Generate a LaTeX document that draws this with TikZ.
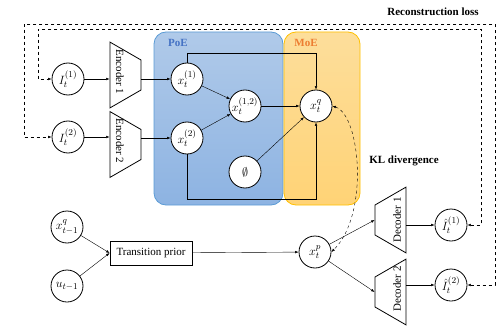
\documentclass[tikz,border=0pt]{standalone}
\usepackage{fontspec}
\setmainfont{Liberation Serif}
\usetikzlibrary{positioning,shapes.geometric,arrows.meta}

\definecolor{poetop}{RGB}{176,202,233}
\definecolor{poebot}{RGB}{141,179,226}
\definecolor{poeline}{RGB}{91,155,213}
\definecolor{poetext}{RGB}{68,114,196}
\definecolor{moetop}{RGB}{253,222,155}
\definecolor{moebot}{RGB}{255,211,118}
\definecolor{moeline}{RGB}{255,192,0}
\definecolor{moetext}{RGB}{237,125,49}

\begin{document}
\begin{tikzpicture}[x=1pt, y=-1pt, font=\fontsize{11}{13}\selectfont,
    var/.style={circle, draw, thick, fill=white, minimum size=32pt, inner sep=0pt,
        font=\fontsize{12.5}{14}\selectfont},
    coder/.style={trapezium, draw, thick, trapezium angle=60,
        inner xsep=15pt, inner ysep=15.5pt},
    prior/.style={rectangle, draw, thick, minimum width=82pt, minimum height=24pt},
    group/.style={rounded corners=12pt, line width=0.8pt},
    tag/.style={font=\fontsize{11}{13}\selectfont\bfseries},
    loss/.style={dashed, <->},
    >={Latex[length=3.5pt,width=2.6pt]}
]
\useasboundingbox (0,0) rectangle (497,326);

% experts
\draw[group, draw=poeline, top color=poetop, bottom color=poebot] (154,32) rectangle (283,205);
\draw[group, draw=moeline, top color=moetop, bottom color=moebot] (284,32) rectangle (360,205);
\node[tag, text=poetext] (poe) at (178,43) {PoE};
\node[tag, text=moetext] (moe) at (306,43) {MoE};

\node[var] (I1) at (68,79) {$I_t^{(1)}$};
\node[var] (I2) at (68,137) {$I_t^{(2)}$};
\node[coder, rotate=-90] (enc1) at (125.5,75) {};
\node[coder, rotate=-90] (enc2) at (125.5,144.5) {};
\node[rotate=-90] (enc1txt) at (120,72) {Encoder 1};
\node[rotate=-90] (enc2txt) at (120,141) {Encoder 2};

\node[var] (x1) at (187,79) {$x_t^{(1)}$};
\node[var] (x2) at (187,138) {$x_t^{(2)}$};
\node[var] (x12) at (245,106) {$x_t^{(1,2)}$};
\node[var] (none) at (245,172) {$\emptyset$};
\node[var] (xq) at (316,106) {$x_t^{q}$};

\node[var] (xprev) at (67,227) {$x_{t-1}^{q}$};
\node[var] (u) at (67,286) {$u_{t-1}$};
\node[prior] (trans) at (151,253) {Transition prior};
\node[var] (xp) at (315,252) {$x_t^{p}$};

\node[coder, rotate=90] (dec1) at (390.5,220) {};
\node[coder, rotate=90] (dec2) at (390.5,292) {};
\node[rotate=90] (dec1txt) at (397,220) {Decoder 1};
\node[rotate=90] (dec2txt) at (397,289) {Decoder 2};
\node[var] (I1hat) at (451,225) {$\hat{I}_t^{(1)}$};
\node[var] (I2hat) at (451,285) {$\hat{I}_t^{(2)}$};

\node[tag] (rec) at (433,12) {Reconstruction loss};
\node[tag] (kl) at (404,161) {KL divergence};

% encoding
\draw[->] (I1) -- (I1 -| enc1.south);
\draw[->] (I2) -- (I2 -| enc2.south);
\draw[->] (enc1.north |- x1) -- (x1);
\draw[->] (enc2.north |- x2) -- (x2);
\draw[->] (x1) -- (x12);
\draw[->] (x2) -- (x12);
\draw[->] (x12) -- (xq);
\draw[->] (none) -- (xq);
\draw[->] (x1.north) -- ++(0,-9) -| (xq.north);
\draw[->] (x2.south) -- ++(0,45) -| (xq.south);

% prior and decoding
\draw[->] (xprev) -- (trans.west);
\draw[->] (u) -- (trans.west);
\draw[->] (trans) -- (xp);
\draw[->] (xp) -- (dec1.north);
\draw[->] (xp) -- (dec2.north);
\draw[->] (dec1.south |- I1hat) -- (I1hat);
\draw[->] (dec2.south |- I2hat) -- (I2hat);

% losses
\draw[loss] (xq.east) .. controls +(28,9) and +(38,-37) .. (xp.east);
\draw[loss] (I1hat.east) -| (481,29) -| (38,79) -- (I1.west);
\draw[loss] (I2hat.east) -| (495,24) -| (24,137) -- (I2.west);
\end{tikzpicture}
\end{document}
